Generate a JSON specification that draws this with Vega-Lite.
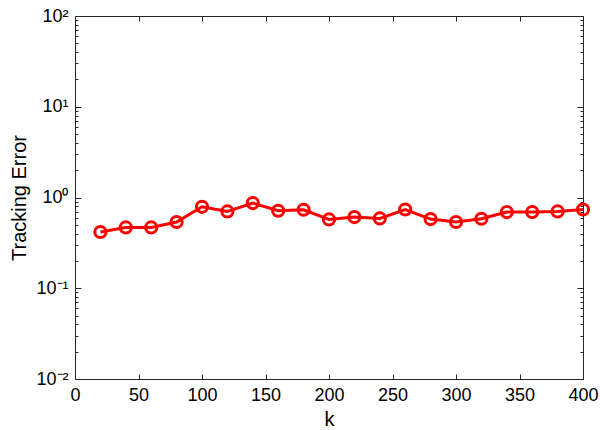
{
  "$schema": "https://vega.github.io/schema/vega-lite/v6.json",
  "width": 508,
  "height": 363,
  "autosize": {"type": "none"},
  "padding": {"left": 75, "top": 16, "right": 17, "bottom": 51},
  "background": "white",
  "config": {
    "view": {"stroke": "#262626", "strokeWidth": 1},
    "axis": {
      "domain": false,
      "grid": false,
      "labelFlush": false,
      "labelFont": "Liberation Sans",
      "labelFontSize": 18,
      "labelColor": "black",
      "titleFont": "Liberation Sans",
      "titleFontSize": 20,
      "titleFontWeight": "normal",
      "titleColor": "black",
      "tickColor": "#262626",
      "tickWidth": 1
    }
  },
  "data": {
    "values": [
      {"k": 20, "err": 0.417},
      {"k": 40, "err": 0.468},
      {"k": 60, "err": 0.468},
      {"k": 80, "err": 0.537},
      {"k": 100, "err": 0.79},
      {"k": 120, "err": 0.702},
      {"k": 140, "err": 0.868},
      {"k": 160, "err": 0.714},
      {"k": 180, "err": 0.733},
      {"k": 200, "err": 0.573},
      {"k": 220, "err": 0.609},
      {"k": 240, "err": 0.588},
      {"k": 260, "err": 0.738},
      {"k": 280, "err": 0.579},
      {"k": 300, "err": 0.537},
      {"k": 320, "err": 0.583},
      {"k": 340, "err": 0.691},
      {"k": 360, "err": 0.691},
      {"k": 380, "err": 0.702},
      {"k": 400, "err": 0.738}
    ]
  },
  "resolve": {
    "scale": {"x": "independent", "y": "independent"},
    "axis": {"x": "independent", "y": "independent"}
  },
  "layer": [
    {
      "mark": {"type": "line", "opacity": 0},
      "encoding": {
        "x": {
          "field": "k", "type": "quantitative",
          "scale": {"domain": [0, 400], "nice": false},
          "axis": {"orient": "top", "title": null, "labels": false, "values": [0, 50, 100, 150, 200, 250, 300, 350, 400], "offset": -5, "tickSize": 5}
        },
        "y": {
          "field": "err", "type": "quantitative",
          "scale": {"type": "log", "domain": [0.01, 100], "nice": false},
          "axis": {"orient": "right", "title": null, "labels": false, "values": [0.01, 0.1, 1, 10, 100], "offset": -6, "tickSize": 6}
        }
      }
    },
    {
      "mark": {"type": "line", "opacity": 0},
      "encoding": {
        "x": {
          "field": "k", "type": "quantitative",
          "scale": {"domain": [0, 400], "nice": false},
          "axis": null
        },
        "y": {
          "field": "err", "type": "quantitative",
          "scale": {"type": "log", "domain": [0.01, 100], "nice": false},
          "axis": {"orient": "right", "title": null, "labels": false, "values": [0.02,0.03,0.04,0.05,0.06,0.07,0.08,0.09,0.2,0.3,0.4,0.5,0.6,0.7,0.8,0.9,2,3,4,5,6,7,8,9,20,30,40,50,60,70,80,90], "offset": -3, "tickSize": 3}
        }
      }
    },
    {
      "mark": {"type": "line", "opacity": 0},
      "encoding": {
        "x": {
          "field": "k", "type": "quantitative",
          "scale": {"domain": [0, 400], "nice": false},
          "axis": null
        },
        "y": {
          "field": "err", "type": "quantitative",
          "scale": {"type": "log", "domain": [0.01, 100], "nice": false},
          "axis": {"orient": "left", "title": null, "labels": false, "values": [0.02,0.03,0.04,0.05,0.06,0.07,0.08,0.09,0.2,0.3,0.4,0.5,0.6,0.7,0.8,0.9,2,3,4,5,6,7,8,9,20,30,40,50,60,70,80,90], "offset": -3, "tickSize": 3}
        }
      }
    },
    {
      "mark": {"type": "line", "color": "#ff0000", "strokeWidth": 3, "clip": false},
      "encoding": {
        "x": {
          "field": "k", "type": "quantitative",
          "scale": {"domain": [0, 400], "nice": false},
          "axis": {
            "title": "k", "orient": "bottom",
            "values": [0, 50, 100, 150, 200, 250, 300, 350, 400],
            "offset": -5, "tickSize": 5, "labelPadding": 7, "titlePadding": 5
          }
        },
        "y": {
          "field": "err", "type": "quantitative",
          "scale": {"type": "log", "domain": [0.01, 100], "nice": false},
          "axis": {
            "title": "Tracking Error", "orient": "left",
            "values": [0.01, 0.1, 1, 10, 100],
            "labelExpr": "datum.value == 100 ? '10²' : datum.value == 10 ? '10¹' : datum.value == 1 ? '10⁰' : datum.value == 0.1 ? '10⁻¹' : '10⁻²'",
            "offset": -6, "tickSize": 6,
            "labelPadding": 7,
            "labelOverlap": false,
            "titlePadding": 6
          }
        }
      }
    },
    {
      "mark": {"type": "point", "shape": "circle", "filled": false, "color": "#ff0000", "strokeWidth": 3, "size": 125, "opacity": 1, "clip": false},
      "encoding": {
        "x": {"field": "k", "type": "quantitative", "scale": {"domain": [0, 400], "nice": false}, "axis": null},
        "y": {"field": "err", "type": "quantitative", "scale": {"type": "log", "domain": [0.01, 100], "nice": false}, "axis": null}
      }
    }
  ]
}
